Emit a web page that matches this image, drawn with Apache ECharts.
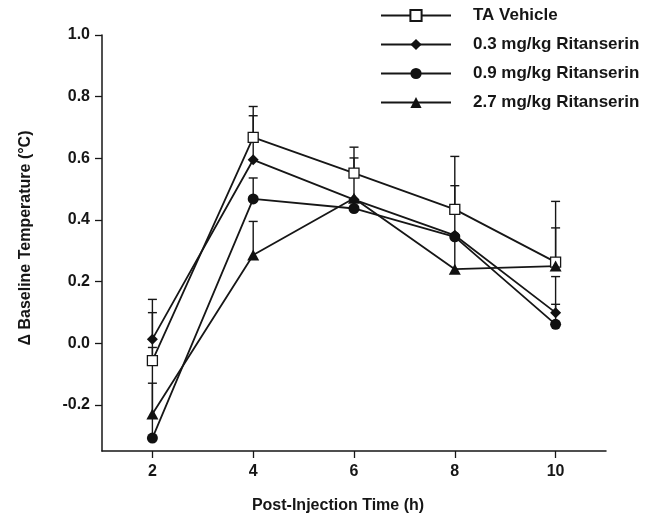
<!DOCTYPE html>
<html>
<head>
<meta charset="utf-8">
<script src="https://cdn.jsdelivr.net/npm/echarts@6/dist/echarts.min.js"></script>
<style>
html,body{margin:0;padding:0;background:#fff;}
#c{width:646px;height:519px;}
</style>
</head>
<body>
<div id="c"></div>
<script>
const times = [2, 4, 6, 8, 10];
const yTicks = [-0.2, 0.0, 0.2, 0.4, 0.6, 0.8, 1.0];
const xTicks = [2, 4, 6, 8, 10];
const seriesNames = ['TA Vehicle', '0.3 mg/kg Ritanserin', '0.9 mg/kg Ritanserin', '2.7 mg/kg Ritanserin'];

const vehicle     = [-0.057, 0.668, 0.552, 0.434, 0.263];
const vehicleTop  = [0.099, 0.768, 0.636, 0.606, 0.460];
const rit03       = [0.013, 0.595, 0.466, 0.350, 0.099];
const rit03Top    = [0.142, 0.738, 0.601, 0.350, 0.216];
const rit09       = [-0.308, 0.468, 0.437, 0.345, 0.061];
const rit09Top    = [-0.014, 0.536, 0.437, 0.345, 0.126];
const rit27       = [-0.230, 0.286, 0.470, 0.240, 0.250];
const rit27Top    = [-0.130, 0.395, 0.470, 0.511, 0.374];

const means = [vehicle, rit03, rit09, rit27];
const tops = [vehicleTop, rit03Top, rit09Top, rit27Top];
const symbols = ['rect', 'diamond', 'circle', 'triangle'];
const symbolSizes = [10, [11, 11], 11, [12, 11]];
const fills = ['#ffffff', '#111', '#111', '#111'];

const INK = '#161616';
const FONT = '"Liberation Sans", Arial, Helvetica, sans-serif';

const series = [];
means.forEach((m, i) => {
  series.push({
    type: 'custom',
    name: seriesNames[i] + ' SEM',
    z: 1,
    silent: true,
    data: times.map((t, k) => [t, m[k], tops[i][k]]),
    renderItem: function (params, api) {
      const p = api.coord([api.value(0), api.value(1)]);
      const q = api.coord([api.value(0), api.value(2)]);
      if (Math.abs(p[1] - q[1]) < 0.5) return null;
      const hw = 4.5;
      return {
        type: 'group',
        children: [
          { type: 'line', shape: { x1: p[0], y1: p[1], x2: q[0], y2: q[1] }, style: { stroke: INK, lineWidth: 1.4 } },
          { type: 'line', shape: { x1: q[0] - hw, y1: q[1], x2: q[0] + hw, y2: q[1] }, style: { stroke: INK, lineWidth: 1.4 } }
        ]
      };
    }
  });
});
means.forEach((m, i) => {
  series.push({
    type: 'line',
    name: seriesNames[i],
    z: 3,
    data: times.map((t, k) => [t, m[k]]),
    symbol: symbols[i],
    symbolSize: symbolSizes[i],
    showAllSymbol: true,
    lineStyle: { color: INK, width: 1.8 },
    itemStyle: { color: fills[i], borderColor: INK, borderWidth: i === 0 ? 1.3 : 0 },
    emphasis: { disabled: true },
    animation: false
  });
});

const chart = echarts.init(document.getElementById('c'), null, { renderer: 'canvas' });
chart.setOption({
  backgroundColor: '#ffffff',
  animation: false,
  grid: { left: 102, right: 40, top: 35, bottom: 67, containLabel: false },
  legend: {
    data: seriesNames,
    orient: 'vertical',
    left: 380,
    top: 7,
    padding: 0,
    itemWidth: 70,
    itemHeight: 14,
    itemGap: 12,
    selectedMode: false,
    textStyle: { fontFamily: FONT, fontWeight: 'bold', fontSize: 17, color: INK, padding: [0, 0, 0, 17] }
  },
  xAxis: {
    type: 'value',
    min: 1,
    max: 11,
    name: 'Post-Injection Time (h)',
    nameLocation: 'middle',
    nameGap: 47,
    nameTextStyle: { fontFamily: FONT, fontWeight: 'bold', fontSize: 16, color: INK, padding: [0, 32, 0, 0] },
    axisLine: { show: true, onZero: false, lineStyle: { color: INK, width: 1.5 } },
    axisTick: { show: true, length: 7, lineStyle: { color: INK, width: 1.3 }, customValues: xTicks },
    axisLabel: { customValues: xTicks, margin: 13, fontFamily: FONT, fontWeight: 'bold', fontSize: 16, color: INK },
    splitLine: { show: false }
  },
  yAxis: {
    type: 'value',
    min: -0.35,
    max: 1.0,
    name: '\u0394 Baseline Temperature (\u00B0C)',
    nameLocation: 'middle',
    nameGap: 68,
    nameTextStyle: { fontFamily: FONT, fontWeight: 'bold', fontSize: 16, color: INK, padding: [0, 0, 0, 10] },
    axisLine: { show: true, onZero: false, lineStyle: { color: INK, width: 1.5 } },
    axisTick: { show: true, length: 7, lineStyle: { color: INK, width: 1.3 }, customValues: yTicks },
    axisLabel: {
      customValues: yTicks, margin: 12, fontFamily: FONT, fontWeight: 'bold', fontSize: 16, color: INK,
      formatter: v => v.toFixed(1)
    },
    splitLine: { show: false }
  },
  series: series
});
</script>
</body>
</html>
